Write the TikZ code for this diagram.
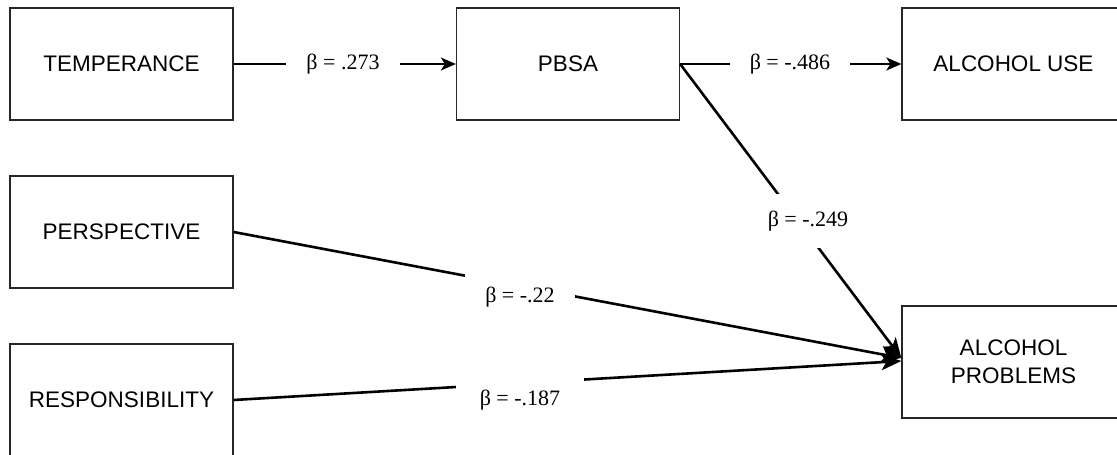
\documentclass[tikz,border=0pt]{standalone}
\usepackage{fontspec}
\setmainfont{Liberation Serif}
\newfontfamily\boxfont{Liberation Sans}
\usetikzlibrary{arrows.meta}
\begin{document}
\begin{tikzpicture}[x=1pt,y=-1pt,
  varbox/.style={draw=black!85,line width=1.3pt,minimum width=223pt,minimum height=112pt,
    inner sep=0pt,align=center,font=\boxfont\fontsize{22.5}{28}\selectfont},
  conn/.style={line width=2pt,-{Stealth[length=15pt,width=13pt,inset=4pt]}},
  bigconn/.style={line width=2.6pt,-{Stealth[length=20pt,width=16pt,inset=5pt]}},
  beta/.style={fill=white,inner xsep=20pt,inner ysep=17pt,font=\fontsize{22}{26}\selectfont}]
\clip (0,0) rectangle (1117,455);
\fill[white] (0,0) rectangle (1117,455);
% boxes
\node[varbox] (temp)  at (121.5,64)  {TEMPERANCE};
\node[varbox] (pbsa)  at (568,64)    {PBSA};
\node[varbox] (use)   at (1013.5,64) {ALCOHOL USE};
\node[varbox] (persp) at (121.5,232) {PERSPECTIVE};
\node[varbox] (resp)  at (121.5,400) {RESPONSIBILITY};
\node[varbox] (ap)    at (1013.5,362){ALCOHOL\\PROBLEMS};
% connectors
\draw[conn] (temp.east) -- (pbsa.west);
\draw[conn] (pbsa.east) -- (use.west);
\draw[bigconn] (pbsa.east) -- ([yshift=4pt]ap.west);
\draw[bigconn] (persp.east) -- ([yshift=4pt]ap.west);
\draw[bigconn] (resp.east) -- ([yshift=1pt]ap.west);
% labels
\node[beta] (b1) at (343,64)  {β = .273};
\node[beta] (b2) at (790,64)  {β = -.486};
\node[beta] (b3) at (808,221) {β = -.249};
\node[beta] (b4) at (520,297) {β = -.22};
\node[beta,inner xsep=24pt] (b5) at (520,400) {β = -.187};
\end{tikzpicture}
\end{document}
